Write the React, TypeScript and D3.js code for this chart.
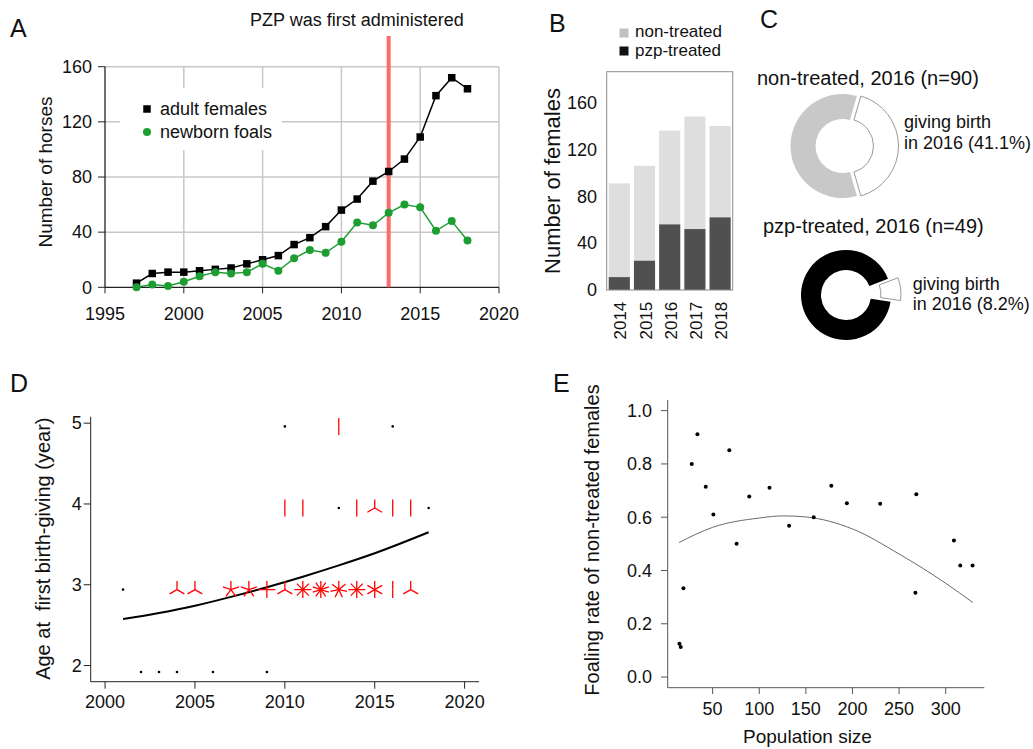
import React from 'react';
import * as d3 from 'd3';

const FONT = 'Liberation Sans, Arial, Helvetica, sans-serif';

// A: herd size per year
const yearsA = [1997, 1998, 1999, 2000, 2001, 2002, 2003, 2004, 2005, 2006, 2007,
  2008, 2009, 2010, 2011, 2012, 2013, 2014, 2015, 2016, 2017, 2018];
const adultFemales = [3, 10, 11, 11, 12, 13, 14, 17, 20, 23, 31, 36, 44, 56, 64, 77, 84, 93, 109, 139, 152, 144];
const newbornFoals = [0, 2, 1, 4, 8, 11, 10, 11, 17, 12, 21, 27, 25, 33, 47, 45, 54, 60, 58, 41, 48, 34];
const pzpYear = 2013;
const ticksAX = [1995, 2000, 2005, 2010, 2015, 2020];
const ticksAY = [0, 40, 80, 120, 160];

// B: females by treatment
const barYears = ['2014', '2015', '2016', '2017', '2018'];
const pzpTreated = [11, 25, 56, 52, 62];
const nonTreated = [80, 81, 80, 96, 78];
const ticksBY = [0, 40, 80, 120, 160];

// C: share giving birth in 2016
const birthNonTreated = [41.1, 58.9];
const birthPzpTreated = [8.2, 91.8];

// D: age at first birth (sunflower plot)
const dYears = [2010, 2013, 2016,
  2010, 2011, 2013, 2014, 2015, 2016, 2017, 2018,
  2001, 2004, 2005, 2007, 2008, 2009, 2010, 2011, 2012, 2013, 2014, 2015, 2016, 2017,
  2002, 2003, 2004, 2006, 2009];
const dAges = [4.96, 4.96, 4.96,
  3.95, 3.95, 3.95, 3.95, 3.95, 3.95, 3.95, 3.95,
  2.94, 2.94, 2.94, 2.94, 2.94, 2.94, 2.94, 2.94, 2.94, 2.94, 2.94, 2.94, 2.94, 2.94,
  1.92, 1.92, 1.92, 1.92, 1.92];
const dCounts = [1, 2, 1,
  2, 2, 1, 2, 3, 2, 2, 1,
  1, 3, 3, 5, 5, 4, 3, 8, 10, 7, 8, 6, 2, 3,
  1, 1, 1, 1, 1];
const fitYears = [2001, 2003, 2005, 2007, 2009, 2011, 2013, 2015, 2018];
const fitAges = [2.575, 2.65, 2.74, 2.85, 2.97, 3.1, 3.24, 3.39, 3.65];
const ticksDX = [2000, 2005, 2010, 2015, 2020];
const ticksDY = [2, 3, 4, 5];

// E: foaling rate vs population size
const popSize = [14.4, 15.8, 18.7, 27.6, 33.7, 42.6, 50.8, 67.9, 75.7, 89.3, 111,
  132, 158.4, 177.3, 194, 229.7, 268.5, 267.5, 308.8, 315.6, 328.8];
const foalRate = [0.125, 0.113, 0.333, 0.8, 0.911, 0.714, 0.61, 0.851, 0.5, 0.678, 0.711,
  0.568, 0.6, 0.718, 0.652, 0.651, 0.686, 0.316, 0.513, 0.419, 0.419];
const fitPop = [14, 50, 100, 126, 150, 200, 250, 300, 329];
const fitRate = [0.505, 0.562, 0.597, 0.605, 0.601, 0.556, 0.462, 0.352, 0.28];
const ticksEX = [50, 100, 150, 200, 250, 300];
const ticksEY = [0, 0.2, 0.4, 0.6, 0.8, 1.0];

const rad = (deg: number) => (deg * Math.PI) / 180;

const Donut = ({ cx, cy, r0, r1, values, startDeg, fill, explode }: {
  cx: number; cy: number; r0: number; r1: number; values: number[];
  startDeg: number; fill: string; explode: number;
}) => {
  const pie = d3.pie<number>().sort(null)
    .startAngle(rad(startDeg)).endAngle(rad(startDeg) + 2 * Math.PI);
  const arc = d3.arc<d3.PieArcDatum<number>>().innerRadius(r0).outerRadius(r1);
  return (
    <g transform={`translate(${cx},${cy})`}>
      {pie(values).map((a, i) => {
        const mid = (a.startAngle + a.endAngle) / 2;
        const off = i === 0 ? explode : 0;
        return (
          <path key={i} d={arc(a) || undefined}
            transform={`translate(${Math.sin(mid) * off},${-Math.cos(mid) * off})`}
            fill={i === 0 ? '#fff' : fill}
            stroke={i === 0 ? '#9a9a9a' : 'none'} strokeWidth={1} />
        );
      })}
    </g>
  );
};

export default function App() {
  // ---- A
  const xA = d3.scaleLinear().domain([1995, 2020]).range([105, 499]);
  const yA = d3.scaleLinear().domain([0, 160]).range([287.3, 66.7]);
  const lineA = (vals: number[]) =>
    d3.line<number>().x((_, i) => xA(yearsA[i])).y((v) => yA(v))(vals) || undefined;

  // ---- B
  const xB = d3.scaleBand<string>().domain(barYears).range([606.7, 732.7])
    .paddingInner(0.16).paddingOuter(0.08);
  const yB = d3.scaleLinear().domain([0, 160]).range([290, 102.5]);

  // ---- D
  const xD = d3.scaleLinear().domain([1999.2, 2020.8]).range([90.7, 479]);
  const yD = d3.scaleLinear().domain([1.8, 5.08]).range([681.7, 416.7]);
  const fitD = d3.line<number>().x((_, i) => xD(fitYears[i])).y((v) => yD(v))
    .curve(d3.curveMonotoneX)(fitAges) || undefined;
  const PETAL = 8.5;

  // ---- E
  const xE = d3.scaleLinear().domain([1.8, 341.4]).range([667.7, 984.3]);
  const yE = d3.scaleLinear().domain([-0.04, 1.04]).range([687.7, 400]);
  const fitE = d3.line<number>().x((_, i) => xE(fitPop[i])).y((v) => yE(v))
    .curve(d3.curveMonotoneX)(fitRate) || undefined;

  const txt = '#111';

  return (
    <svg width={1033} height={749} style={{ position: 'absolute', left: 0, top: 0, background: '#fff' }}
      fontFamily={FONT}>
      <rect width={1033} height={749} fill="#fff" />

      {/* ================= A ================= */}
      <text x={10} y={37} fontSize={25} fill={txt}>A</text>
      <text x={250} y={26} fontSize={18} fill={txt}>PZP was first administered</text>
      {ticksAX.slice(1).map((t) => (
        <line key={t} x1={xA(t)} x2={xA(t)} y1={yA(160)} y2={yA(0)} stroke="#c8c8c8" strokeWidth={1.5} />
      ))}
      {ticksAY.slice(1).map((t) => (
        <line key={t} x1={xA(1995)} x2={xA(2020)} y1={yA(t)} y2={yA(t)} stroke="#c8c8c8" strokeWidth={1.5} />
      ))}
      <rect x={120} y={88} width={162} height={62} fill="#fff" />
      <line x1={xA(1995)} x2={xA(1995)} y1={yA(160)} y2={yA(0)} stroke="#222" strokeWidth={1.3} />
      <line x1={xA(1995)} x2={xA(2020)} y1={yA(0)} y2={yA(0)} stroke="#222" strokeWidth={1.3} />
      {ticksAY.map((t) => (
        <g key={t}>
          <line x1={xA(1995) - 7} x2={xA(1995)} y1={yA(t)} y2={yA(t)} stroke="#222" />
          <text x={92} y={yA(t)} dy="0.35em" textAnchor="end" fontSize={18} fill={txt}>{t}</text>
        </g>
      ))}
      {ticksAX.map((t) => (
        <g key={t}>
          <line x1={xA(t)} x2={xA(t)} y1={yA(0)} y2={yA(0) + 6} stroke="#222" />
          <text x={xA(t)} y={320} textAnchor="middle" fontSize={18} fill={txt}>{t}</text>
        </g>
      ))}
      <text transform="translate(52,172) rotate(-90)" textAnchor="middle" fontSize={19} fill={txt}>Number of horses</text>
      <line x1={xA(pzpYear)} x2={xA(pzpYear)} y1={36} y2={yA(0)} stroke="#ff6b6b" strokeWidth={4} />
      <path d={lineA(adultFemales)} fill="none" stroke="#000" strokeWidth={1.5} />
      {adultFemales.map((v, i) => (
        <rect key={i} x={xA(yearsA[i]) - 3.75} y={yA(v) - 3.75} width={7.5} height={7.5} fill="#000" />
      ))}
      <path d={lineA(newbornFoals)} fill="none" stroke="#1e9e32" strokeWidth={1.5} />
      {newbornFoals.map((v, i) => (
        <circle key={i} cx={xA(yearsA[i])} cy={yA(v)} r={4} fill="#1e9e32" />
      ))}
      <rect x={143.25} y={105.25} width={7.5} height={7.5} fill="#000" />
      <text x={160} y={115} fontSize={18} fill={txt}>adult females</text>
      <circle cx={147} cy={132} r={4} fill="#1e9e32" />
      <text x={160} y={138} fontSize={18} fill={txt}>newborn foals</text>

      {/* ================= B ================= */}
      <text x={549} y={31.7} fontSize={25} fill={txt}>B</text>
      <rect x={619.5} y={28.5} width={9} height={9} fill="#c0c0c0" />
      <text x={635} y={36.5} fontSize={17} fill={txt}>non-treated</text>
      <rect x={619.5} y={46.5} width={9} height={9} fill="#111" />
      <text x={635} y={55.7} fontSize={17} fill={txt}>pzp-treated</text>
      {barYears.map((y, i) => (
        <g key={y}>
          <rect x={xB(y)} width={xB.bandwidth()} y={yB(pzpTreated[i] + nonTreated[i])}
            height={yB(pzpTreated[i]) - yB(pzpTreated[i] + nonTreated[i])} fill="#dedede" />
          <rect x={xB(y)} width={xB.bandwidth()} y={yB(pzpTreated[i])}
            height={yB(0) - yB(pzpTreated[i])} fill="#505050" />
          <text transform={`translate(${(xB(y) || 0) + xB.bandwidth() / 2 + 7},301.7) rotate(-90)`}
            textAnchor="end" fontSize={17} fill={txt}>{y}</text>
        </g>
      ))}
      <rect x={606.7} y={71.7} width={126} height={218.3} fill="none" stroke="#8c8c8c" strokeWidth={1} />
      {ticksBY.map((t) => (
        <text key={t} x={597} y={yB(t)} dy="0.35em" textAnchor="end" fontSize={18} fill={txt}>{t}</text>
      ))}
      <text transform="translate(560,181) rotate(-90)" textAnchor="middle" fontSize={22} fill={txt}>Number of females</text>

      {/* ================= C ================= */}
      <text x={760} y={28.3} fontSize={25} fill={txt}>C</text>
      <text x={757} y={85} fontSize={20} fill={txt}>non-treated, 2016 (n=90)</text>
      <Donut cx={842.5} cy={146} r0={27} r1={52} values={birthNonTreated} startDeg={16} fill="#c8c8c8" explode={4} />
      <text x={904} y={128.3} fontSize={18} fill={txt}>giving birth</text>
      <text x={904} y={149} fontSize={18} fill={txt}>in 2016 (41.1%)</text>
      <text x={763} y={233.3} fontSize={20} fill={txt}>pzp-treated, 2016 (n=49)</text>
      <Donut cx={846} cy={295} r0={25} r1={45} values={birthPzpTreated} startDeg={69} fill="#000" explode={10} />
      <text x={912.7} y={290} fontSize={18} fill={txt}>giving birth</text>
      <text x={912.7} y={310} fontSize={18} fill={txt}>in 2016 (8.2%)</text>

      {/* ================= D ================= */}
      <text x={10} y={392} fontSize={25} fill={txt}>D</text>
      <line x1={90.7} x2={90.7} y1={416.7} y2={681.7} stroke="#222" />
      <line x1={90.7} x2={479} y1={681.7} y2={681.7} stroke="#222" />
      {ticksDY.map((t) => (
        <g key={t}>
          <line x1={83.7} x2={90.7} y1={yD(t)} y2={yD(t)} stroke="#222" />
          <text x={81.7} y={yD(t)} dy="0.35em" textAnchor="end" fontSize={18} fill={txt}>{t}</text>
        </g>
      ))}
      {ticksDX.map((t) => (
        <g key={t}>
          <line x1={xD(t)} x2={xD(t)} y1={681.7} y2={688.7} stroke="#222" />
          <text x={xD(t)} y={708.3} textAnchor="middle" fontSize={18} fill={txt}>{t}</text>
        </g>
      ))}
      <text transform="translate(49.5,548.7) rotate(-90)" textAnchor="middle" fontSize={20} fill={txt}
        style={{ whiteSpace: 'pre' }}>{'Age at  first birth-giving (year)'}</text>
      <path d={fitD} fill="none" stroke="#000" strokeWidth={2} />
      {dYears.map((yr, i) => {
        const cx = xD(yr);
        const cy = yD(dAges[i]);
        const n = dCounts[i];
        if (n === 1) return <circle key={i} cx={cx} cy={cy} r={1.3} fill="#000" />;
        return (
          <g key={i}>
            {d3.range(1, n + 1).map((k) => {
              const a = (2 * Math.PI * k) / n;
              return <line key={k} x1={cx} y1={cy} x2={cx + PETAL * Math.sin(a)} y2={cy - PETAL * Math.cos(a)}
                stroke="#ff0000" strokeWidth={1.3} />;
            })}
          </g>
        );
      })}

      {/* ================= E ================= */}
      <text x={553} y={392} fontSize={25} fill={txt}>E</text>
      <line x1={667.7} x2={667.7} y1={400} y2={687.7} stroke="#555" />
      <line x1={667.7} x2={984.3} y1={687.7} y2={687.7} stroke="#555" />
      {ticksEY.map((t) => (
        <g key={t}>
          <line x1={661} x2={667.7} y1={yE(t)} y2={yE(t)} stroke="#555" />
          <text x={652} y={yE(t)} dy="0.35em" textAnchor="end" fontSize={18} fill={txt}>{t.toFixed(1)}</text>
        </g>
      ))}
      {ticksEX.map((t) => (
        <g key={t}>
          <line x1={xE(t)} x2={xE(t)} y1={687.7} y2={694} stroke="#555" />
          <text x={xE(t)} y={715} textAnchor="middle" fontSize={18} fill={txt}>{t}</text>
        </g>
      ))}
      <text transform="translate(599,540) rotate(-90)" textAnchor="middle" fontSize={20} fill={txt}>Foaling rate of non-treated females</text>
      <text x={807.5} y={743} textAnchor="middle" fontSize={19} fill={txt}>Population size</text>
      <path d={fitE} fill="none" stroke="#6a6a6a" strokeWidth={1} />
      {popSize.map((p, i) => (
        <circle key={i} cx={xE(p)} cy={yE(foalRate[i])} r={2} fill="#000" />
      ))}
    </svg>
  );
}
